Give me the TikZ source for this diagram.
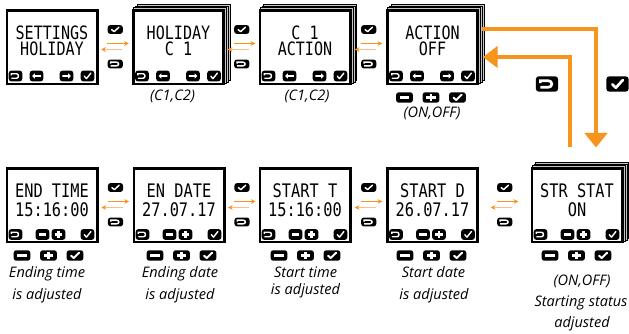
\documentclass[tikz,border=0pt]{standalone}
\usepackage{fontspec}
\setmainfont{Open Sans}
\newfontfamily\lcdfont[FakeStretch=0.82]{DejaVu Sans Mono}
\usetikzlibrary{calc,arrows.meta}
\definecolor{ora}{HTML}{F7941D}
\definecolor{oral}{HTML}{FBBE86}

\tikzset{
  symw/.initial=1.2pt,
  scr/.style={draw=black, fill=white, line width=2pt, minimum width=67.75pt, minimum height=55pt, inner sep=0pt},
  stacksty/.style={draw=black, fill=gray!45, line width=0.5pt},
  lcdtop/.style={font=\lcdfont\fontsize{13.8}{12.4}\selectfont, align=center, inner sep=0pt},
  lcdbot/.style={font=\lcdfont\fontsize{14}{14.2}\selectfont, align=center, inner sep=0pt},
  lbl/.style={font=\itshape\fontsize{10.9}{12}\selectfont, inner sep=0pt, anchor=base},
  fwd/.style={draw=ora, line width=0.8pt, -{Stealth[length=3.5pt, width=3.6pt]}},
  bwd/.style={draw=oral, line width=0.8pt, -{Stealth[length=3.5pt, width=3.6pt, color=ora]}},
  big/.style={draw=ora, line width=2.6pt},
  insc/.style={xscale=0.85, yscale=0.98, symw=1.05pt},
  mid/.style={xscale=0.95, yscale=0.8, symw=1.1pt},
  ext/.style={xscale=1.05, yscale=0.95, symw=1.5pt},
  large/.style={xscale=1.38, yscale=1.38, symw=2pt},
  pics/bchk/.style={code={
    \fill[black, rounded corners=2pt] (-8,-5.5) rectangle (8,5.5);
    \draw[white, line width=\pgfkeysvalueof{/tikz/symw}, line cap=round, line join=round] (-3.8,0.2) -- (-1.2,2.7) -- (3.9,-2.9);}},
  pics/bret/.style={code={
    \fill[black, rounded corners=2pt] (-8,-5.5) rectangle (8,5.5);
    \draw[white, line width=\pgfkeysvalueof{/tikz/symw}, line cap=butt] (-4.8,-0.6) -- (-4.8,-2.3) -- (1.2,-2.3) arc[start angle=-90, end angle=90, radius=2.3] -- (-4.8,2.3);}},
  pics/bleft/.style={code={
    \fill[black, rounded corners=2pt] (-8,-5.5) rectangle (8,5.5);
    \fill[white] (-5.2,0) -- (-2,-2.8) -- (-2,-1) -- (5,-1) -- (5,1) -- (-2,1) -- (-2,2.8) -- cycle;}},
  pics/bright/.style={code={
    \fill[black, rounded corners=2pt] (-8,-5.5) rectangle (8,5.5);
    \fill[white] (5.2,0) -- (2,-2.8) -- (2,-1) -- (-5,-1) -- (-5,1) -- (2,1) -- (2,2.8) -- cycle;}},
  pics/bminus/.style={code={
    \fill[black, rounded corners=2pt] (-8,-5.5) rectangle (8,5.5);
    \fill[white] (-4.6,-1.2) rectangle (4.6,1.2);}},
  pics/bplus/.style={code={
    \fill[black, rounded corners=2pt] (-8,-5.5) rectangle (8,5.5);
    \fill[white] (-4.6,-1.2) rectangle (4.6,1.2);
    \fill[white] (-1.3,-4) rectangle (1.3,4);}},
}

\newcommand\stackat[2]{%
  \foreach \k in {3,2,1}{%
    \draw[stacksty] ({#1-46.5+1.7*\k},{#2-38-1.7*\k}) rectangle ({#1+46.5+1.7*\k},{#2+38-1.7*\k});
  }}
% top screen: name, x, y, text
\newcommand\topscreen[4]{%
  \node[scr] (#1) at (#2,#3) {};
  \node[lcdtop] (#1t) at ([shift={(0,-6.5)}]#1.center) {#4};
  \pic[insc] at ([shift={(-36.5,28.5)}]#1.center) {bret};
  \pic[insc] at ([shift={(-15.5,28.5)}]#1.center) {bleft};
  \pic[insc] at ([shift={(14.5,28.5)}]#1.center) {bright};
  \pic[insc] at ([shift={(35.5,28.5)}]#1.center) {bchk};
}
\newcommand\botscreen[4]{%
  \node[scr] (#1) at (#2,#3) {};
  \node[lcdbot] (#1t) at ([shift={(0,-5.5)}]#1.center) {#4};
  \pic[insc] at ([shift={(-36.5,29)}]#1.center) {bret};
  \pic[insc] at ([shift={(-9.5,29)}]#1.center) {bminus};
  \pic[insc] at ([shift={(6.5,29)}]#1.center) {bplus};
  \pic[insc] at ([shift={(35.5,29)}]#1.center) {bchk};
}
% external button row: screen name, x offset
\newcommand\extrow[2]{%
  \pic[ext] at ([shift={(#2-26.5,50)}]#1.center) {bminus};
  \pic[ext] at ([shift={(#2,50)}]#1.center) {bplus};
  \pic[ext] at ([shift={(#2+26.5,50)}]#1.center) {bchk};
}
% link between screens
\newcommand\link[3]{%
  \path ($(#1.east)!0.5!(#2.west)$) coordinate (m#3);
  \pic[mid] at ([shift={(0,-18)}]m#3) {bchk};
  \pic[mid] at ([shift={(0,16.5)}]m#3) {bret};
  \draw[fwd] ([shift={(-8,-4)}]m#3) -- ([shift={(13.5,-4)}]m#3);
  \draw[bwd] ([shift={(7,2)}]m#3) -- ([shift={(-14,2)}]m#3);
}

\begin{document}
\begin{tikzpicture}[x=0.75pt, y=-0.75pt]
\fill[white] (0,0) rectangle (629,334);
\useasboundingbox (0,0) rectangle (629,334);

% stacks behind
\stackat{178.5}{47.5}
\stackat{305}{47.5}
\stackat{432.5}{47.5}
\stackat{577}{205.5}

\topscreen{s1}{52}{47.5}{SETTINGS\\HOLIDAY}
\topscreen{s2}{178.5}{47.5}{HOLIDAY\\C 1}
\topscreen{s3}{305}{47.5}{C 1\\ACTION}
\topscreen{s4}{432.5}{47.5}{ACTION\\OFF}

\botscreen{s5}{52}{205.5}{END TIME\\15:16:00}
\botscreen{s6}{179}{205.5}{EN DATE\\27.07.17}
\botscreen{s7}{305}{205.5}{START T\\15:16:00}
\botscreen{s8}{432.5}{205.5}{START D\\26.07.17}
\botscreen{s9}{577}{205.5}{STR STAT\\ON}

\link{s1}{s2}{a}
\link{s2}{s3}{b}
\link{s3}{s4}{c}
\link{s5}{s6}{d}
\link{s6}{s7}{e}
\link{s7}{s8}{f}
\link{s8}{s9}{g}

% external buttons
\extrow{s4}{-1.5}
\extrow{s5}{-3.5}
\extrow{s6}{2.5}
\extrow{s7}{0.5}
\extrow{s8}{-1}
\extrow{s9}{-0.5}

% labels
\node[lbl] (l2) at (172.5,100.7) {(C1,C2)};
\node[lbl] (l3) at (307,100.7) {(C1,C2)};
\node[lbl] (l4) at (432,118) {(ON,OFF)};
\node[lbl] (l5a) at (47,278) {Ending time};
\node[lbl] (l5b) at (47,299.5) {is adjusted};
\node[lbl] (l6a) at (180,278) {Ending date};
\node[lbl] (l6b) at (180,299.5) {is adjusted};
\node[lbl] (l7a) at (305.5,278) {Start time};
\node[lbl] (l7b) at (305.5,294.5) {is adjusted};
\node[lbl] (l8a) at (433.5,278) {Start date};
\node[lbl] (l8b) at (434,300) {is adjusted};
\node[lbl] (l9a) at (582,285.5) {(ON,OFF)};
\node[lbl] (l9b) at (581,307) {Starting status};
\node[lbl] (l9c) at (582,327.5) {adjusted};

% big connectors
\draw[big, -{Triangle[length=11pt, width=17pt]}] ([shift={(3,-18.5)}]s4.east) -| ([shift={(19,-20)}]s9.north);
\draw[big, -{Triangle[length=11pt, width=16pt]}] ([shift={(-7,-20)}]s9.north) |- ([shift={(4,9.5)}]s4.east);
\pic[large] at (547,84) {bret};
\pic[large] at (617.5,84) {bchk};
\end{tikzpicture}
\end{document}
